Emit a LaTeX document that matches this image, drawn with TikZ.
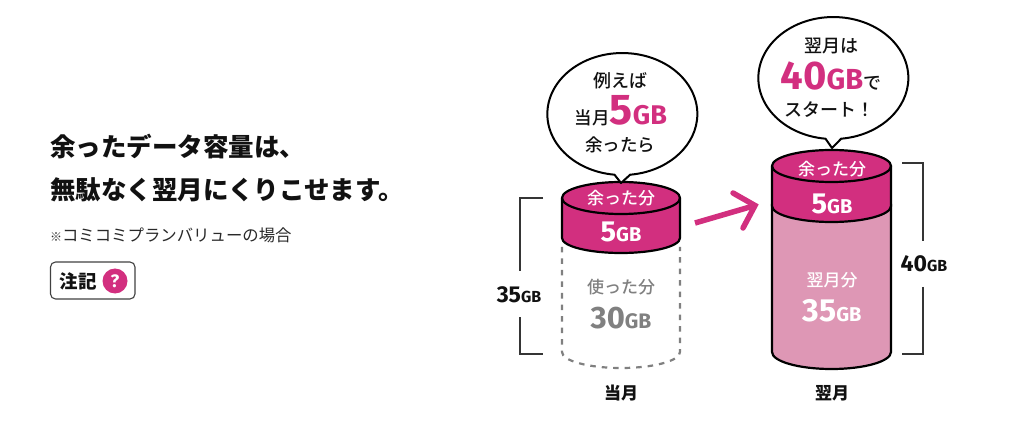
\documentclass[tikz,border=0pt]{standalone}
\usepackage{fontspec}
\setmainfont{Noto Sans CJK JP}
\newfontfamily\jpm{Noto Sans CJK JP Medium}
\newfontfamily\din{Fira Sans}
\definecolor{mag}{HTML}{D22F7F}
\definecolor{lpink}{HTML}{DE97B5}
\definecolor{grayt}{HTML}{808080}
\definecolor{ink}{HTML}{111111}
\newcommand{\fs}[1]{\fontsize{#1}{#1}\selectfont}
\newcommand{\num}[3]{{\din\bfseries\fs{#1}#3\fs{#2}GB}}
\tikzset{
  txt/.style={inner sep=0pt,outer sep=0pt,anchor=center,text=ink,font=\jpm},
  bracketline/.style={draw=ink!85,line width=1.2pt},
  cyl/.style={draw=black,line width=2.2pt,line join=round},
  bubble/.style={draw=black,line width=2pt,fill=white,line join=round},
}
\begin{document}
\begin{tikzpicture}[x=1pt,y=-1pt]
\useasboundingbox (0,0) rectangle (1024,435);
\fill[white] (0,0) rectangle (1024,435);
% left text
\node[txt,anchor=west,font=\bfseries\fs{25.5}] (h1) at (50,147) {余ったデータ容量は、};
\node[txt,anchor=west,font=\bfseries\fs{25.5}] (h2) at (50,190) {無駄なく翌月にくりこせます。};
\node[txt,anchor=west,font=\fs{16.4},text=ink!90] (note) at (50,235) {{\bfseries\fs{12}※}コミコミプランバリューの場合};
\draw[draw=ink!80,line width=1.1pt,rounded corners=5pt] (50.5,262) rectangle (135,299);
\node[txt,anchor=center,font=\bfseries\fs{18.5}] (cn) at (78,281) {注記};
\node[circle,fill=mag,minimum size=25pt,inner sep=0pt,text=white,font=\din\bfseries\fs{18}] (q) at (115,281) {?};
% left cylinder dashed
\draw[draw=grayt,line width=2.2pt,dash pattern=on 5.5pt off 6pt] (562,247) -- (562,352) arc[start angle=180,end angle=0,x radius=59,y radius=16] -- (680,247);
% left cylinder band
\path[fill=mag,cyl] (562,198) -- (562,238) arc[start angle=180,end angle=0,x radius=59,y radius=15] -- (680,198) arc[start angle=0,end angle=-180,x radius=59,y radius=16] -- cycle;
\draw[cyl] (562,198) arc[start angle=180,end angle=0,x radius=59,y radius=16];
% left bubble
\draw[bubble] (614.5,174.7) arc[start angle=96,end angle=444,x radius=75,y radius=61] -- (621,183) -- cycle;
% right cylinder
\path[fill=lpink,cyl] (772,204) -- (772,352) arc[start angle=180,end angle=0,x radius=59.5,y radius=17] -- (891,204) -- cycle;
\path[fill=mag,cyl] (772,166) -- (772,206) arc[start angle=180,end angle=0,x radius=59.5,y radius=16] -- (891,166) arc[start angle=0,end angle=-180,x radius=59.5,y radius=16] -- cycle;
\draw[cyl] (772,166) arc[start angle=180,end angle=0,x radius=59.5,y radius=16];
% right bubble
\draw[bubble] (825.5,138.7) arc[start angle=96,end angle=444,x radius=75,y radius=61] -- (832,148) -- cycle;
% brackets
\draw[bracketline] (543,198) -- (520,198) -- (520,271);
\draw[bracketline] (520,317) -- (520,354) -- (543,354);
\draw[bracketline] (902,163) -- (923,163) -- (923,241);
\draw[bracketline] (923,287) -- (923,354) -- (902,354);
% arrow
\coordinate (as) at (695,223);
\coordinate (at) at (755,205.5);
\draw[mag,line width=5.5pt] (as) -- (at);
\draw[mag,line width=5.5pt,line cap=round,line join=miter] (733,193) -- (755,205.5) -- (743,228);
% labels bubble
\node[txt,font=\jpm\fs{18}] at (620,81) {例えば};
\node[txt,anchor=base] (l5) at (621,125) {\fs{17.5}当月{\din\bfseries\color{mag}\fs{43}5\fs{27}GB}};
\node[txt,font=\jpm\fs{17.5}] at (620,145) {余ったら};
\node[txt,font=\jpm\fs{18}] at (831,46) {翌月は};
\node[txt,anchor=base] at (831,90) {{\din\bfseries\color{mag}\fs{40}40\fs{29}GB}\fs{18}で};
\node[txt,font=\jpm\fs{18}] at (829,110) {スタート！};
% cylinder labels
\node[txt,text=white,font=\jpm\fs{17}] at (621,198) {余った分};
\node[txt,text=white,anchor=base] at (621,242) {\num{29}{20}{5}};
\node[txt,text=grayt,font=\jpm\fs{17}] at (621,287) {使った分};
\node[txt,text=grayt,anchor=base] at (621,328) {\num{31}{21}{30}};
\node[txt,text=white,font=\jpm\fs{17}] at (832,169) {余った分};
\node[txt,text=white,anchor=base] at (832,214) {\num{29}{20}{5}};
\node[txt,text=white,font=\jpm\fs{17}] at (832,280) {翌月分};
\node[txt,text=white,anchor=base] at (832,321) {\num{32}{20}{35}};
% side
\node[txt,anchor=base] at (519,302) {\num{23}{16}{35}};
\node[txt,anchor=base] at (924,272) {\num{23}{16}{40}};
\node[txt,font=\bfseries\fs{17}] at (621,393) {当月};
\node[txt,font=\bfseries\fs{17}] at (832,393) {翌月};
\end{tikzpicture}
\end{document}
